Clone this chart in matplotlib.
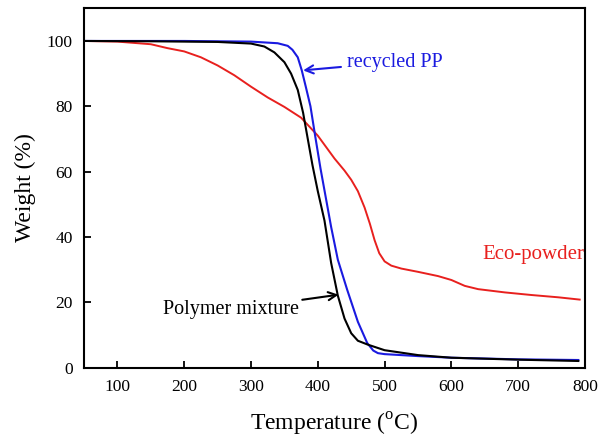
import matplotlib
matplotlib.use("Agg")
import matplotlib.pyplot as plt

# TGA curves
temp_eco = [50, 100, 150, 175, 200, 225, 250, 275, 300, 325, 350, 375, 400, 425,
            440, 450, 460, 470, 478, 485, 492, 500, 510, 525, 550, 580, 600, 620,
            640, 680, 720, 760, 792]
weight_eco = [100, 99.8, 99, 97.8, 96.8, 95, 92.5, 89.5, 86, 82.7, 79.8, 76.5, 71, 64,
              60.3, 57.5, 54, 49, 44, 39, 35, 32.5, 31.2, 30.3, 29.3, 28, 26.8, 25,
              24, 23, 22.2, 21.5, 20.8]

temp_mix = [50, 150, 250, 300, 320, 335, 350, 360, 370, 378, 385, 392, 400, 410,
            420, 430, 440, 450, 460, 475, 500, 550, 600, 700, 790]
weight_mix = [100, 99.9, 99.7, 99.2, 98.3, 96.5, 93.5, 90, 85, 78, 70, 62, 54, 45,
              32, 22, 15, 10.5, 8.2, 7, 5.3, 3.8, 3, 2.4, 2.0]

temp_pp = [50, 200, 300, 340, 355, 362, 370, 376, 382, 389, 396, 404, 412, 420,
           430, 444, 460, 474, 483, 490, 500, 550, 600, 700, 790]
weight_pp = [100, 100, 99.8, 99.3, 98.5, 97.3, 95, 91, 86, 80, 71, 61, 52, 43,
             33, 23.8, 14, 7.5, 5.2, 4.4, 4.1, 3.5, 3, 2.5, 2.3]

x_ticks = [100, 200, 300, 400, 500, 600, 700, 800]
y_ticks = [0, 20, 40, 60, 80, 100]

plt.rcParams['font.family'] = ['Liberation Serif', 'DejaVu Serif']
plt.rcParams['mathtext.fontset'] = 'custom'
plt.rcParams['mathtext.rm'] = 'Liberation Serif'

fig = plt.figure(figsize=(6, 4.37), dpi=100)
ax = fig.add_axes([0.14, 0.159, 0.835, 0.822])

ax.plot(temp_eco, weight_eco, color='#e8201e', lw=1.4)
ax.plot(temp_pp, weight_pp, color='#1a1ae0', lw=1.5)
ax.plot(temp_mix, weight_mix, color='black', lw=1.5)

ax.set_xlim(50, 800)
ax.set_ylim(0, 110)
ax.set_xticks(x_ticks)
ax.set_yticks(y_ticks)
ax.tick_params(direction='in', length=5, width=1.3, labelsize=12.5, pad=8)
for s in ax.spines.values():
    s.set_linewidth(1.5)
    s.set_zorder(5)

ax.set_xlabel('Temperature ($^{\\mathrm{o}}$C)', fontsize=17, labelpad=12)
ax.set_ylabel('Weight (%)', fontsize=17, labelpad=8)

# annotations
ax.annotate('recycled PP', xy=(378, 91), xytext=(443, 93.5), color='#1a1ae0',
            fontsize=14.5, va='center',
            arrowprops=dict(arrowstyle='->', color='#1a1ae0', lw=1.5,
                            shrinkA=2, shrinkB=0))
ax.annotate('Polymer mixture', xy=(431, 22.3), xytext=(169, 17.7), color='black',
            fontsize=14.5, va='center',
            arrowprops=dict(arrowstyle='->', color='black', lw=1.5,
                            shrinkA=0, shrinkB=0))
ax.text(647, 34.6, 'Eco-powder', color='#e8201e', fontsize=15, va='center',
        clip_on=True)

fig.savefig('out.png', dpi=100)
